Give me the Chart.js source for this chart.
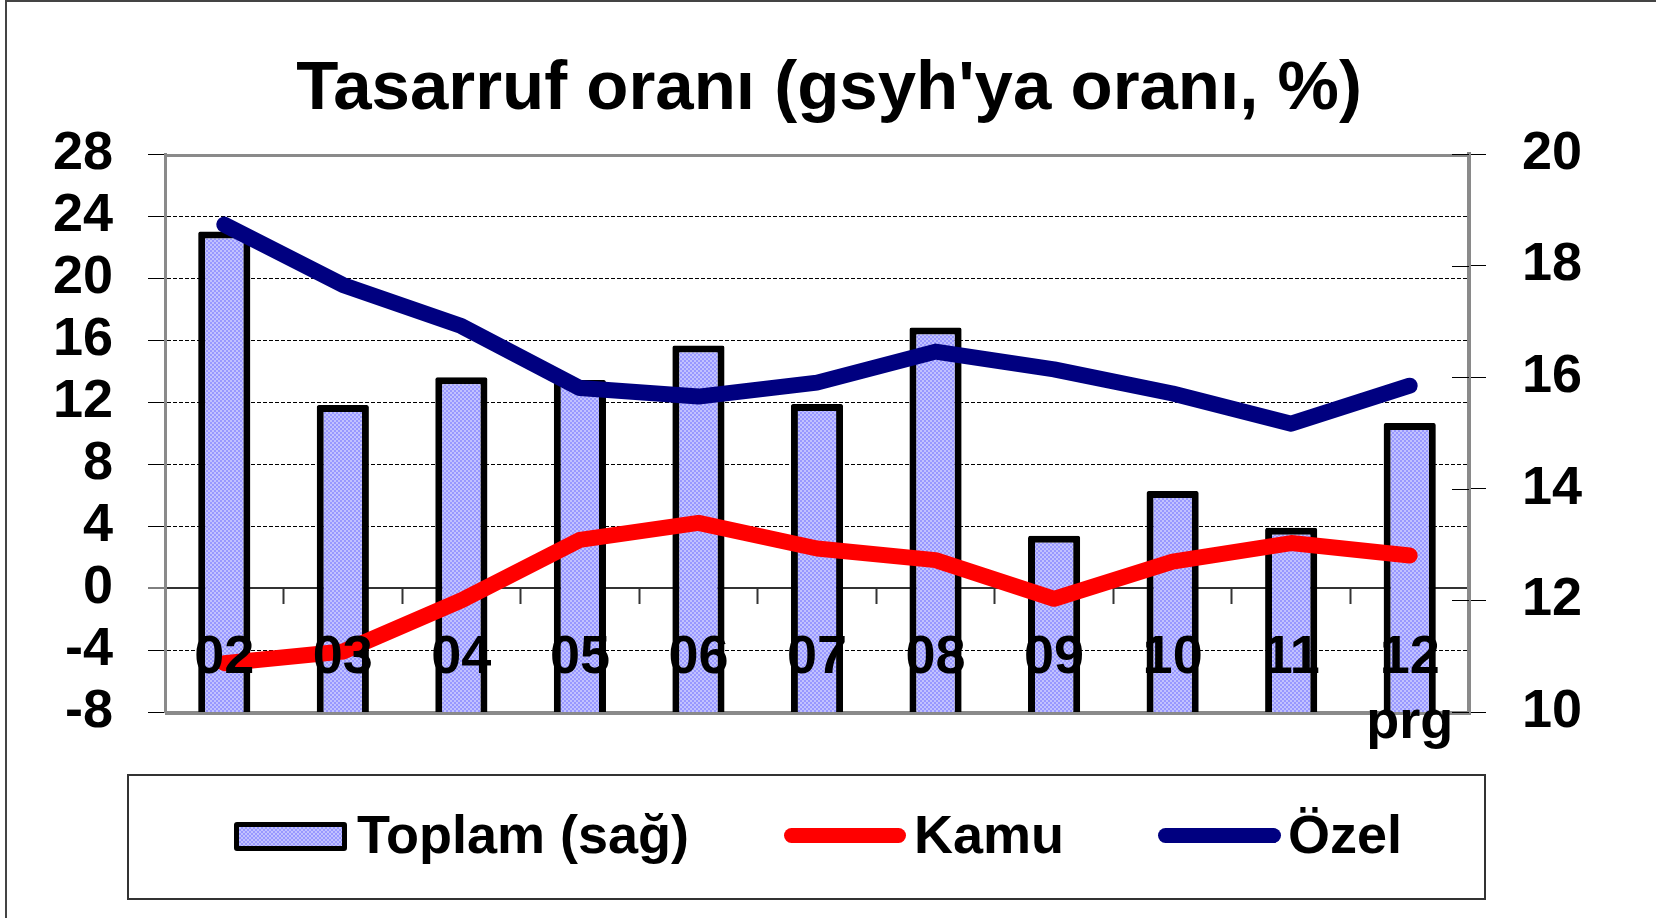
<!DOCTYPE html>
<html lang="tr">
<head>
  <meta charset="UTF-8">
  <title>Tasarruf oranı</title>
  <script src="https://cdn.jsdelivr.net/npm/chart.js"></script>
  <style>
    body { margin: 0; background: #fff; font-family: "Liberation Sans", Arial, sans-serif; }
    #wrap { position: relative; width: 1656px; height: 918px; overflow: hidden; }
    #frame { position: absolute; left: 5px; top: 0; right: 0; bottom: 0; border-left: 2px solid #444; border-top: 2px solid #444; pointer-events: none; }
    #legend { position: absolute; left: 127px; top: 774px; width: 1359px; height: 126px; box-sizing: border-box; border: 2px solid #333; }
    #legend .sw, #legend .txt, #legend .ln { position: absolute; }
    #legend .sw { left: 105px; top: 46px; width: 113px; height: 29px; box-sizing: border-box; border: 5px solid #000; border-radius: 3px;
      background: repeating-conic-gradient(#9898ff 0 25%, #c2c2ff 0 50%) 0 0 / 4px 4px; }
    #legend .txt { top: 31px; font-size: 54px; font-weight: bold; line-height: 54px; color: #000; white-space: nowrap; }
    #legend .ln { top: 52px; height: 15px; border-radius: 8px; }
  </style>
</head>
<body>
  <div id="wrap">
    <canvas id="chart"></canvas>
    <div id="frame"></div>
    <div id="legend">
      <span class="sw"></span>
      <span class="txt" style="left:228px">Toplam (sağ)</span>
      <span class="ln" style="left:655px;width:122px;background:#ff0000"></span>
      <span class="txt" style="left:785px">Kamu</span>
      <span class="ln" style="left:1029px;width:123px;background:#000080"></span>
      <span class="txt" style="left:1159px">Özel</span>
    </div>
  </div>
  <script>
    // data
    const years = ['02', '03', '04', '05', '06', '07', '08', '09', '10', '11', ['12', 'prg']];
    const toplam = [18.61, 15.50, 16.00, 15.95, 16.57, 15.52, 16.89, 13.16, 13.96, 13.30, 15.18];
    const kamu = [-4.85, -4.1, -0.8, 3.1, 4.2, 2.55, 1.8, -0.7, 1.7, 2.9, 2.1];
    const ozel = [23.45, 19.55, 16.9, 12.9, 12.35, 13.25, 15.25, 14.1, 12.55, 10.6, 13.05];

    const FONT = '"Liberation Sans", Arial, sans-serif';
    Chart.defaults.font.family = FONT;
    Chart.defaults.color = '#000';

    // checker fill for the bars
    function makePattern() {
      const c = document.createElement('canvas');
      c.width = 4; c.height = 4;
      const g = c.getContext('2d');
      g.fillStyle = '#c2c2ff';
      g.fillRect(0, 0, 4, 4);
      g.fillStyle = '#9898ff';
      g.fillRect(0, 0, 2, 2);
      g.fillRect(2, 2, 2, 2);
      return g.createPattern(c, 'repeat');
    }

    // title + gray plot frame
    const decor = {
      id: 'decor',
      beforeDraw(chart) {
        const ctx = chart.ctx;
        ctx.save();
        ctx.fillStyle = '#000';
        ctx.font = 'bold 69px ' + FONT;
        ctx.textAlign = 'center';
        ctx.textBaseline = 'alphabetic';
        ctx.fillText("Tasarruf oranı (gsyh'ya oranı, %)", 829, 109);
        ctx.restore();
      },
      beforeDatasetsDraw(chart) {
        const a = chart.chartArea, ctx = chart.ctx;
        ctx.save();
        ctx.strokeStyle = '#8a8a8a';
        ctx.lineWidth = 3;
        ctx.beginPath();
        ctx.moveTo(a.left, a.top + 1.5);
        ctx.lineTo(a.right, a.top + 1.5);
        ctx.stroke();
        ctx.lineWidth = 4;
        ctx.beginPath();
        ctx.moveTo(a.left, a.bottom + 1);
        ctx.lineTo(a.right + 2, a.bottom + 1);
        ctx.stroke();
        // right-axis tick marks also reach into the plot
        const y1 = chart.scales.y1;
        ctx.strokeStyle = '#000';
        ctx.lineWidth = 1;
        y1.ticks.forEach(t => {
          const py = Math.round(y1.getPixelForValue(t.value)) + 0.5;
          ctx.beginPath();
          ctx.moveTo(a.right - 17, py);
          ctx.lineTo(a.right, py);
          ctx.stroke();
        });
        ctx.restore();
      }
    };

    const tickFont = { size: 54, weight: 'bold' };

    new Chart(document.getElementById('chart'), {
      data: {
        labels: years,
        datasets: [
          {
            type: 'line', label: 'Kamu', data: kamu, yAxisID: 'y', order: 2,
            borderColor: '#ff0000', borderWidth: 16, pointRadius: 0,
            borderCapStyle: 'round', borderJoinStyle: 'round', tension: 0
          },
          {
            type: 'line', label: 'Özel', data: ozel, yAxisID: 'y', order: 1,
            borderColor: '#000080', borderWidth: 16, pointRadius: 0,
            borderCapStyle: 'round', borderJoinStyle: 'round', tension: 0
          },
          {
            type: 'bar', label: 'Toplam (sağ)', data: toplam, yAxisID: 'y1', order: 3,
            backgroundColor: makePattern(), borderColor: '#000', borderWidth: 7,
            borderSkipped: false, borderRadius: 2,
            categoryPercentage: 1, barPercentage: 0.44
          }
        ]
      },
      options: {
        responsive: true,
        maintainAspectRatio: false,
        animation: false,
        layout: { padding: { top: 154, bottom: 206, left: 0, right: 0 } },
        plugins: { legend: { display: false }, tooltip: { enabled: false } },
        scales: {
          x: {
            type: 'category',
            position: { y: 0 },
            offset: true,
            border: { display: false },
            grid: { offset: true, drawOnChartArea: false, drawTicks: true, tickLength: 16, tickColor: '#333', tickWidth: 2 },
            ticks: { z: 1, font: tickFont, padding: 22, maxRotation: 0, autoSkip: false, color: '#000' }
          },
          y: {
            position: 'left',
            min: -8, max: 28,
            afterFit(s) { s.width = 165; },
            border: { display: true, color: '#8a8a8a', width: 3,
              dash: c => (c.tick && c.tick.value === 0) ? [] : [4, 2] },
            grid: {
              color: c => {
                const v = c.tick.value;
                if (v === 28 || v === -8) return 'rgba(0,0,0,0)';
                return v === 0 ? '#333' : '#000';
              },
              lineWidth: c => c.tick.value === 0 ? 2 : 1,
              tickColor: '#000', tickWidth: 1, tickLength: 17
            },
            ticks: { stepSize: 4, autoSkip: false, font: tickFont, padding: 35, color: '#000' }
          },
          y1: {
            position: 'right',
            min: 10, max: 20,
            afterFit(s) { s.width = 187; },
            border: { display: true, color: '#8a8a8a', width: 4 },
            grid: { drawOnChartArea: false, tickColor: '#000', tickWidth: 1, tickLength: 17 },
            ticks: { stepSize: 2, autoSkip: false, font: tickFont, padding: 36, color: '#000' }
          }
        }
      },
      plugins: [decor]
    });
  </script>
</body>
</html>
